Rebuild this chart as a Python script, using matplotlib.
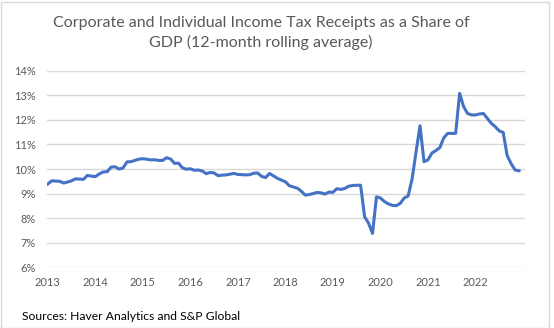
import numpy as np
import matplotlib
matplotlib.use('Agg')
import matplotlib.pyplot as plt
from matplotlib.patches import Rectangle
from matplotlib.ticker import FuncFormatter

# monthly observations, Jan 2013 - Dec 2022 (percent of GDP)
share = [
    9.39, 9.52, 9.51, 9.50, 9.43, 9.47, 9.52, 9.60, 9.59, 9.58, 9.74, 9.71,   # 2013
    9.69, 9.80, 9.88, 9.89, 10.08, 10.09, 10.00, 10.04, 10.29, 10.30, 10.35, 10.40,  # 2014
    10.42, 10.40, 10.37, 10.38, 10.35, 10.35, 10.46, 10.41, 10.23, 10.24, 10.05, 9.99,  # 2015
    10.01, 9.95, 9.96, 9.92, 9.81, 9.86, 9.84, 9.73, 9.75, 9.76, 9.79, 9.82,  # 2016
    9.78, 9.77, 9.76, 9.77, 9.83, 9.84, 9.70, 9.65, 9.82, 9.72, 9.62, 9.55,   # 2017
    9.48, 9.32, 9.27, 9.22, 9.10, 8.94, 8.96, 9.00, 9.05, 9.03, 8.98, 9.06,   # 2018
    9.05, 9.20, 9.17, 9.21, 9.30, 9.33, 9.34, 9.34, 8.06, 7.80, 7.38, 8.87,   # 2019
    8.82, 8.68, 8.58, 8.52, 8.51, 8.60, 8.82, 8.90, 9.60, 10.70, 11.76, 10.30,  # 2020
    10.37, 10.65, 10.75, 10.87, 11.27, 11.45, 11.45, 11.45, 13.08, 12.54, 12.26, 12.20,  # 2021
    12.20, 12.24, 12.26, 12.06, 11.86, 11.72, 11.55, 11.49, 10.55, 10.22, 9.96, 9.93,  # 2022
]
years = [2013, 2014, 2015, 2016, 2017, 2018, 2019, 2020, 2021, 2022]
y_ticks = [6, 7, 8, 9, 10, 11, 12, 13, 14]

title = "Corporate and Individual Income Tax Receipts as a Share of\nGDP (12-month rolling average)"
source = "Sources: Haver Analytics and S&P Global"

plt.rcParams['font.family'] = ['Lato', 'DejaVu Sans']

fig = plt.figure(figsize=(5.54, 3.28), dpi=100)
fig.patch.set_facecolor('white')
fig.patches.append(Rectangle((0.002, 0.0), 0.989, 0.995, transform=fig.transFigure,
                             fill=False, edgecolor='#d9d9d9', linewidth=1.0))

ax = fig.add_axes([0.0848, 0.185, 0.8628, 0.5994])
months = np.arange(len(share))
ax.plot(months, share, color='#4472c4', linewidth=2.2, solid_joinstyle='round')

ax.set_xlim(-0.2, 120.5)
ax.set_ylim(6, 14)
ax.set_yticks(y_ticks)
ax.yaxis.set_major_formatter(FuncFormatter(lambda v, p: '%d%%' % v))
ax.set_xticks([12 * (y - 2013) for y in years])
ax.set_xticklabels([str(y) for y in years])

ax.grid(axis='y', color='#d9d9d9', linewidth=1.0)
ax.set_axisbelow(True)
for s in ax.spines.values():
    s.set_visible(False)
ax.tick_params(length=0, labelsize=7.9, labelcolor='#595959')
ax.tick_params(axis='y', pad=8)
ax.tick_params(axis='x', pad=7)

fig.text(0.471, 0.90, title, ha='center', va='center', fontsize=11.5,
         color='#595959', linespacing=1.38)
fig.text(0.039, 0.034, source, ha='left', va='center', fontsize=8.75, color='black')

fig.savefig('out.png', dpi=100)
